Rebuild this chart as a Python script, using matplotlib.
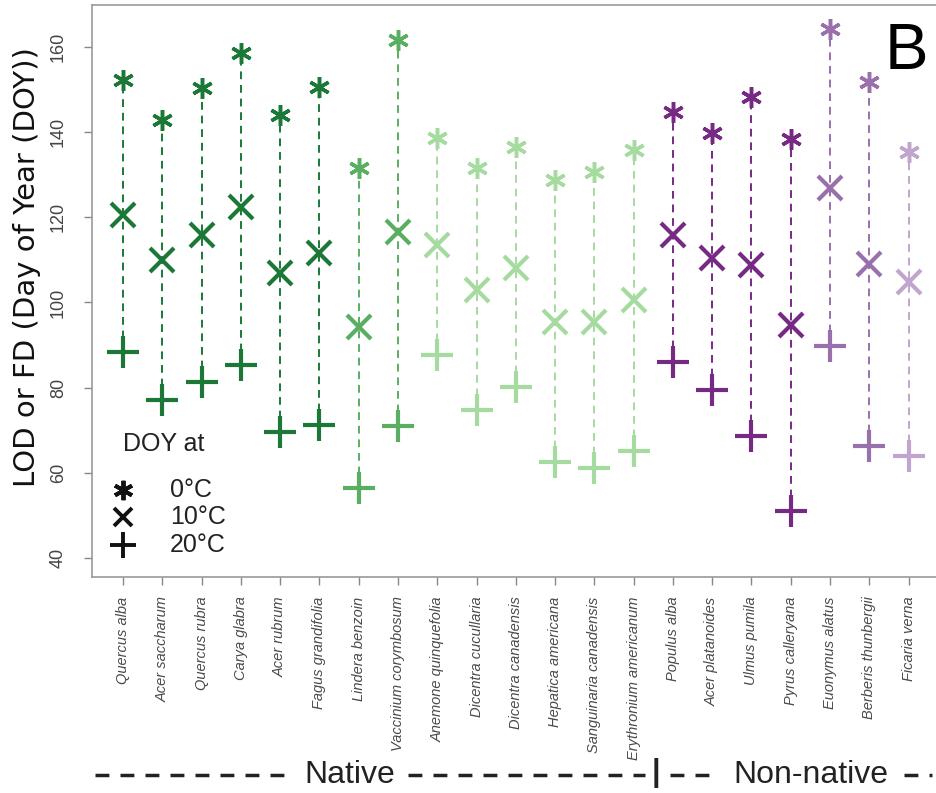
import matplotlib
matplotlib.use("Agg")
import matplotlib.pyplot as plt
from matplotlib.lines import Line2D

plt.rcParams['font.family'] = ['Liberation Sans', 'DejaVu Sans']

species = ['Quercus alba', 'Acer saccharum', 'Quercus rubra', 'Carya glabra',
           'Acer rubrum', 'Fagus grandifolia', 'Lindera benzoin',
           'Vaccinium corymbosum', 'Anemone quinquefolia', 'Dicentra cucullaria',
           'Dicentra canadensis', 'Hepatica americana', 'Sanguinaria canadensis',
           'Erythronium americanum', 'Populus alba', 'Acer platanoides',
           'Ulmus pumila', 'Pyrus calleryana', 'Euonymus alatus',
           'Berberis thunbergii', 'Ficaria verna']
# group of each species (native trees / shrubs / herbs, non-native ...)
group = ['nt', 'nt', 'nt', 'nt', 'nt', 'nt', 'ns', 'ns',
         'nh', 'nh', 'nh', 'nh', 'nh', 'nh',
         'xt', 'xt', 'xt', 'xt', 'xs', 'xs', 'xh']

doy_0c = [152.3, 142.9, 150.4, 158.6, 144.0, 150.6, 131.6, 161.7, 138.6, 131.6,
          136.5, 128.8, 130.7, 135.8, 144.7, 139.8, 148.3, 138.4, 164.2, 151.8, 135.3]
doy_10c = [120.5, 110.0, 115.9, 122.4, 107.0, 111.6, 94.3, 116.6, 113.5, 103.0,
           108.1, 95.4, 95.4, 100.6, 115.9, 110.5, 108.8, 94.7, 126.9, 109.0, 104.8]
doy_20c = [88.4, 77.1, 81.3, 85.3, 69.6, 71.2, 56.4, 71.0, 87.7, 74.8,
           80.2, 62.5, 61.1, 65.1, 86.0, 79.5, 68.7, 51.0, 89.8, 66.3, 64.0]

colors = {'nt': '#1b7837', 'ns': '#5aae61', 'nh': '#a6dba0',
          'xt': '#762a83', 'xs': '#9970ab', 'xh': '#c2a5cf'}

fig = plt.figure(figsize=(9.36, 7.93), dpi=100)
ax = fig.add_axes([0.0983, 0.2724, 0.906, 0.7213])

for i, sp in enumerate(species):
    c = colors[group[i]]
    ax.plot([i, i], [doy_20c[i], doy_0c[i]], color=c, lw=1.4,
            dashes=(4, 3), zorder=1)
    ax.plot(i, doy_0c[i], marker=(6, 2, 0), ms=15, mew=2.5, color=c, zorder=3)
    ax.plot(i, doy_10c[i], marker='x', ms=17, mew=3, color=c, zorder=3)
    ax.plot(i, doy_20c[i], marker='+', ms=23, mew=3, color=c, zorder=3)

ax.set_xlim(-0.79, 20.8)
ax.set_ylim(35.5, 169.9)
ax.set_xticks(range(len(species)))
ax.set_xticklabels(species, rotation=90, fontsize=10.5, style='italic',
                   color='#4a4a4a', va='top', ha='center')
ax.set_yticks(range(40, 161, 20))
ax.set_yticklabels([str(v) for v in range(40, 161, 20)], rotation=90,
                   fontsize=13, color='#444444', va='center')
ax.tick_params(axis='both', color='#888888', length=6, width=1)
ax.tick_params(axis='x', pad=8)
ax.tick_params(axis='y', pad=12)
for s in ax.spines.values():
    s.set_color('#999999')
    s.set_linewidth(1.2)

fig.text(27 / 936, 1 - 267 / 793, 'LOD or FD (Day of Year (DOY))', rotation=90,
         fontsize=21, family='DejaVu Sans', color='#111111',
         ha='center', va='center')

# legend written by hand as in the original
ax.text(0.036, 0.232, 'DOY at', transform=ax.transAxes, fontsize=18,
        color='#222222', va='center')
leg_rows = [((6, 2, 0), '0°C', 14), ('x', '10°C', 13), ('+', '20°C', 19)]
for k, (m, lab, ms) in enumerate(leg_rows):
    yy = 0.152 - k * 0.048
    ax.plot(0.036, yy, marker=m, ms=ms, mew=2.8, color='#111111',
            transform=ax.transAxes, clip_on=False)
    ax.text(0.092, yy, lab, transform=ax.transAxes, fontsize=18,
            color='#222222', va='center')

fig.text(0.968, 0.935, 'B', fontsize=47, ha='center', va='center', color='black')

# bottom group annotation
ybot = 1 - 775 / 793
def dash(x0, x1):
    fig.add_artist(Line2D([x0 / 936, x1 / 936], [ybot, ybot], color='#222222',
                          lw=2.5, dashes=(4, 3.2)))
dash(95, 292)
fig.text(350 / 936, ybot, 'Native', fontsize=23, ha='center', va='center',
         color='#222222')
dash(408, 645)
fig.text(656 / 936, ybot + 0.002, '|', fontsize=22, ha='center', va='center',
         color='#222222', fontweight='bold')
dash(670, 718)
fig.text(811 / 936, ybot, 'Non-native', fontsize=23, ha='center', va='center',
         color='#222222')
dash(904, 932)

fig.savefig('out.png', dpi=100)
